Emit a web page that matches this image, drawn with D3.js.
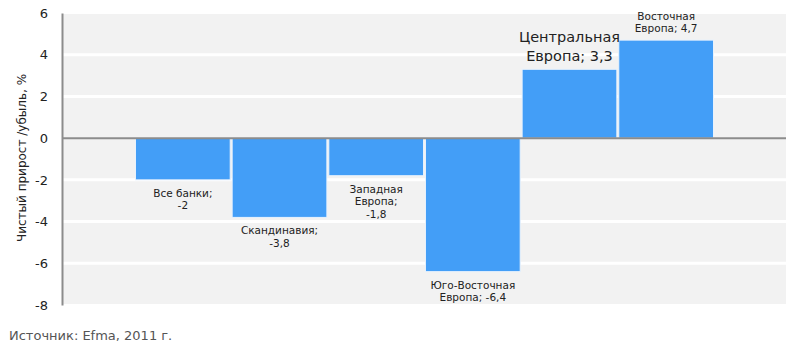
<!doctype html>
<html>
<head>
<meta charset="utf-8">
<script src="https://cdn.jsdelivr.net/npm/d3@7"></script>
<style>
  body { margin: 0; background: #fff; }
  svg { display: block; font-family: "DejaVu Sans", sans-serif; }
</style>
</head>
<body>
<svg width="800" height="352"></svg>
<script>
// data
var categories = ["Все банки", "Скандинавия", "Западная Европа", "Юго-Восточная Европа", "Центральная Европа", "Восточная Европа"];
var values = [-2, -3.8, -1.8, -6.4, 3.3, 4.7];
var labelLines = [["Все банки;", "-2"], ["Скандинавия;", "-3,8"], ["Западная", "Европа;", "-1,8"],
                  ["Юго-Восточная", "Европа; -6,4"], ["Центральная", "Европа; 3,3"], ["Восточная", "Европа; 4,7"]];
var yTicks = [6, 4, 2, 0, -2, -4, -6, -8];

var svg = d3.select("svg");
var pLeft = 63, pRight = 786, pTop = 13, pBottom = 305;

var x = d3.scaleBand().domain(categories).range([pLeft, pRight]).paddingInner(0.02).paddingOuter(0.75);
var y = d3.scaleLinear().domain([-8, 6]).range([pBottom, pTop]);

// plot background
svg.append("rect").attr("x", pLeft).attr("y", pTop + 1).attr("width", pRight - pLeft).attr("height", pBottom - pTop - 2)
   .attr("fill", "#f2f2f2");

// gridlines
svg.append("g").selectAll("line").data(yTicks.filter(function(d) { return d != 6 && d != -8 && d != 0; }))
   .enter().append("line")
   .attr("x1", pLeft).attr("x2", pRight)
   .attr("y1", function(d) { return y(d); }).attr("y2", function(d) { return y(d); })
   .attr("stroke", "#fff").attr("stroke-width", 3);

// y axis (plain hyphen for negatives, like the original)
var yAxis = d3.axisLeft(y).tickValues(yTicks).tickSize(0).tickPadding(14).tickFormat(function(d) { return String(d); });
var yg = svg.append("g").attr("transform", "translate(" + (pLeft - 1) + ",0)").call(yAxis);
yg.select(".domain").attr("stroke", "#8c8c8c").attr("stroke-width", 2);
yg.selectAll("text").attr("font-size", 13).attr("fill", "#222").attr("font-family", "DejaVu Sans, sans-serif");

// bars
svg.append("g").selectAll("rect").data(values).enter().append("rect")
   .attr("x", function(d, i) { return x(categories[i]); })
   .attr("width", x.bandwidth())
   .attr("y", function(d) { return y(Math.max(0, d)); })
   .attr("height", function(d) { return Math.abs(y(d) - y(0)); })
   .attr("fill", "#439ef7")
   .attr("stroke", "#e8f2fd").attr("stroke-width", 1);

// zero line
svg.append("line").attr("x1", pLeft).attr("x2", pRight).attr("y1", y(0)).attr("y2", y(0))
   .attr("stroke", "#8c8c8c").attr("stroke-width", 2);

// data labels
var labels = svg.append("g").selectAll("text").data(values).enter().append("text")
   .attr("text-anchor", "middle")
   .attr("fill", "#222")
   .attr("font-size", function(d, i) { return i == 4 ? 14.5 : 10.5; })
   .attr("x", function(d, i) { return x(categories[i]) + x.bandwidth() / 2; })
   .attr("y", function(d, i) {
      var lh = i == 4 ? 19 : 12.5;
      if (d < 0) return y(d) + 17;
      return y(d) - 8 - (labelLines[i].length - 1) * lh;
   });
labels.each(function(d, i) {
   var lh = i == 4 ? 19 : 12.5;
   d3.select(this).selectAll("tspan").data(labelLines[i]).enter().append("tspan")
     .attr("x", d3.select(this).attr("x"))
     .attr("dy", function(t, j) { return j == 0 ? 0 : lh; })
     .text(function(t) { return t; });
});

// axis title
svg.append("text").attr("transform", "translate(26,158) rotate(-90)")
   .attr("text-anchor", "middle").attr("font-size", 12).attr("fill", "#222")
   .text("Чистый прирост /убыль, %");

// source
svg.append("text").attr("x", 9).attr("y", 340).attr("font-size", 13).attr("fill", "#555")
   .text("Источник: Efma, 2011 г.");
</script>
</body>
</html>
